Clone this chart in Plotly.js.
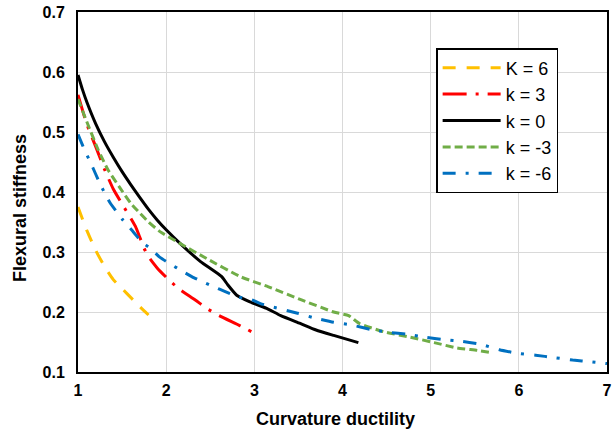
<!DOCTYPE html>
<html>
<head>
<meta charset="utf-8">
<script src="https://cdn.plot.ly/plotly-3.0.1.min.js"></script>
<style>html,body{margin:0;padding:0;background:#fff;}#chart{width:615px;height:431px;}</style>
</head>
<body>
<div id="chart"></div>
<script>
// Series names
var seriesNames = ['K = 6', 'k = 3', 'k = 0', 'k = -3', 'k = -6'];

// K = 6
var k6X = [1, 1.1, 1.2, 1.3, 1.4, 1.5, 1.6, 1.7, 1.8];
var k6Y = [0.375, 0.336, 0.303, 0.276, 0.254, 0.239, 0.224, 0.209, 0.195];

// k = 3
var k3X = [1, 1.05, 1.1, 1.2, 1.3, 1.4, 1.5, 1.6, 1.65, 1.7, 1.75, 1.8, 1.9, 2.0, 2.14, 2.33, 2.46, 2.6, 2.84, 2.97];
var k3Y = [0.562, 0.537, 0.513, 0.476, 0.438, 0.405, 0.38, 0.356, 0.343, 0.325, 0.306, 0.292, 0.273, 0.258, 0.239, 0.22, 0.206, 0.194, 0.177, 0.167];

// k = 0
var k0X = [1, 1.05, 1.1, 1.2, 1.3, 1.4, 1.5, 1.6, 1.7, 1.8, 1.9, 2.0, 2.16, 2.39, 2.63, 2.7, 2.8, 2.95, 3.14, 3.3, 3.52, 3.7, 3.9, 4.18];
var k0Y = [0.595, 0.571, 0.55, 0.514, 0.484, 0.458, 0.434, 0.412, 0.391, 0.371, 0.353, 0.337, 0.314, 0.284, 0.259, 0.245, 0.228, 0.217, 0.206, 0.194, 0.181, 0.17, 0.161, 0.149];

// k = -3
var km3X = [1, 1.1, 1.23, 1.34, 1.48, 1.6, 1.7, 1.8, 1.93, 2.16, 2.46, 2.84, 3.16, 3.52, 3.9, 4.07, 4.19, 4.47, 4.77, 5.04, 5.3, 5.53, 5.7];
var km3Y = [0.555, 0.517, 0.47, 0.437, 0.406, 0.381, 0.365, 0.35, 0.334, 0.314, 0.289, 0.259, 0.242, 0.221, 0.2, 0.194, 0.181, 0.167, 0.158, 0.149, 0.14, 0.136, 0.132];

// k = -6
var km6X = [1, 1.06, 1.12, 1.17, 1.23, 1.29, 1.36, 1.5, 1.63, 1.72, 1.82, 1.93, 2.07, 2.16, 2.29, 2.42, 2.54, 2.67, 2.82, 2.96, 3.07, 3.49, 3.66, 3.9, 4.11, 4.32, 4.53, 4.73, 4.94, 5.15, 5.36, 5.57, 5.78, 5.99, 6.19, 6.4, 6.61, 6.82, 7.0];
var km6Y = [0.496, 0.475, 0.456, 0.44, 0.42, 0.402, 0.383, 0.355, 0.333, 0.317, 0.306, 0.291, 0.278, 0.27, 0.259, 0.25, 0.242, 0.234, 0.225, 0.221, 0.214, 0.198, 0.191, 0.183, 0.178, 0.171, 0.166, 0.163, 0.158, 0.154, 0.151, 0.146, 0.137, 0.131, 0.128, 0.124, 0.12, 0.117, 0.114];

// Axis labels
var xTitle = 'Curvature ductility';
var yTitle = 'Flexural stiffness';

var FONT = '"Liberation Sans", Arial, sans-serif';

function tr(x, y, name, color, dash) {
  return {
    x: x, y: y, name: name, type: 'scatter', mode: 'lines',
    line: {color: color, width: 3, dash: dash, shape: 'spline', smoothing: 0.5},
    hoverinfo: 'skip'
  };
}

var data = [
  tr(k6X, k6Y, seriesNames[0], '#FFC000', '13px,11px'),
  tr(k3X, k3Y, seriesNames[1], '#FF0000', '24px,9px,3px,9px'),
  tr(k0X, k0Y, seriesNames[2], '#000000', 'solid'),
  tr(km3X, km3Y, seriesNames[3], '#70AD47', '8px,4px'),
  tr(km6X, km6Y, seriesNames[4], '#0070C0', '13px,10px,3px,10px')
];

var layout = {
  width: 615, height: 431,
  margin: {l: 78, r: 8, t: 12, b: 59, pad: 0},
  paper_bgcolor: '#ffffff', plot_bgcolor: '#ffffff',
  font: {family: FONT, color: '#000000'},
  showlegend: true,
  legend: {
    x: 0.677, y: 0.9, xanchor: 'left', yanchor: 'top',
    bgcolor: '#ffffff', bordercolor: '#000000', borderwidth: 1.5,
    font: {family: FONT, size: 18, color: '#000000'},
    itemwidth: 58, tracegroupgap: 0
  },
  xaxis: {
    range: [1, 7], dtick: 1, tick0: 1,
    showgrid: true, gridcolor: '#d9d9d9', gridwidth: 1,
    zeroline: false, showline: true, linecolor: '#000000', linewidth: 2, mirror: true,
    ticks: '', ticklabelstandoff: 3,
    tickfont: {family: FONT, size: 16, color: '#000000', weight: 'bold'}
  },
  yaxis: {
    range: [0.1, 0.7], dtick: 0.1, tick0: 0.1, tickformat: '.1f',
    showgrid: true, gridcolor: '#d9d9d9', gridwidth: 1,
    zeroline: false, showline: true, linecolor: '#000000', linewidth: 2, mirror: true,
    ticks: '', ticklabelstandoff: 8,
    tickfont: {family: FONT, size: 16, color: '#000000', weight: 'bold'}
  },
  annotations: [
    {text: xTitle, xref: 'paper', yref: 'paper', x: 0.4868, y: -0.1306,
     xanchor: 'center', yanchor: 'middle', showarrow: false,
     font: {family: FONT, size: 18, color: '#000000', weight: 'bold'}},
    {text: yTitle, xref: 'paper', yref: 'paper', x: -0.1096, y: 0.4556,
     xanchor: 'center', yanchor: 'middle', showarrow: false, textangle: -90,
     font: {family: FONT, size: 18, color: '#000000', weight: 'bold'}}
  ]
};

Plotly.newPlot('chart', data, layout, {displayModeBar: false, staticPlot: true});
</script>
</body>
</html>
